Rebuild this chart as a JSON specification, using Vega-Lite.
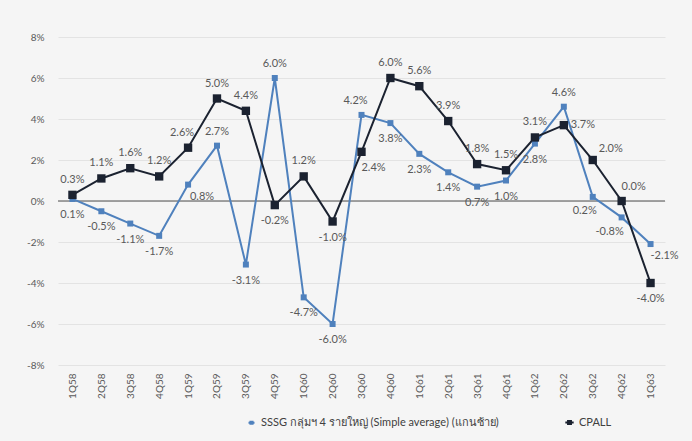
{
  "$schema": "https://vega.github.io/schema/vega-lite/v6.json",
  "width": 607,
  "height": 328,
  "autosize": {"type": "none"},
  "padding": {"left": 58, "top": 37, "right": 27, "bottom": 76},
  "background": "#f5f5f5",
  "config": {
    "view": {"stroke": null},
    "font": "Lato",
    "locale": {"number": {"decimal": ".", "thousands": ",", "grouping": [3], "currency": ["$", ""], "minus": "-"}}
  },
  "data": {
    "values": [
      {"q": "1Q58", "s": "SSSG", "v": 0.1}, {"q": "1Q58", "s": "CPALL", "v": 0.3},
      {"q": "2Q58", "s": "SSSG", "v": -0.5}, {"q": "2Q58", "s": "CPALL", "v": 1.1},
      {"q": "3Q58", "s": "SSSG", "v": -1.1}, {"q": "3Q58", "s": "CPALL", "v": 1.6},
      {"q": "4Q58", "s": "SSSG", "v": -1.7}, {"q": "4Q58", "s": "CPALL", "v": 1.2},
      {"q": "1Q59", "s": "SSSG", "v": 0.8}, {"q": "1Q59", "s": "CPALL", "v": 2.6},
      {"q": "2Q59", "s": "SSSG", "v": 2.7}, {"q": "2Q59", "s": "CPALL", "v": 5.0},
      {"q": "3Q59", "s": "SSSG", "v": -3.1}, {"q": "3Q59", "s": "CPALL", "v": 4.4},
      {"q": "4Q59", "s": "SSSG", "v": 6.0}, {"q": "4Q59", "s": "CPALL", "v": -0.2},
      {"q": "1Q60", "s": "SSSG", "v": -4.7}, {"q": "1Q60", "s": "CPALL", "v": 1.2},
      {"q": "2Q60", "s": "SSSG", "v": -6.0}, {"q": "2Q60", "s": "CPALL", "v": -1.0},
      {"q": "3Q60", "s": "SSSG", "v": 4.2}, {"q": "3Q60", "s": "CPALL", "v": 2.4},
      {"q": "4Q60", "s": "SSSG", "v": 3.8}, {"q": "4Q60", "s": "CPALL", "v": 6.0},
      {"q": "1Q61", "s": "SSSG", "v": 2.3}, {"q": "1Q61", "s": "CPALL", "v": 5.6},
      {"q": "2Q61", "s": "SSSG", "v": 1.4}, {"q": "2Q61", "s": "CPALL", "v": 3.9},
      {"q": "3Q61", "s": "SSSG", "v": 0.7}, {"q": "3Q61", "s": "CPALL", "v": 1.8},
      {"q": "4Q61", "s": "SSSG", "v": 1.0}, {"q": "4Q61", "s": "CPALL", "v": 1.5},
      {"q": "1Q62", "s": "SSSG", "v": 2.8}, {"q": "1Q62", "s": "CPALL", "v": 3.1},
      {"q": "2Q62", "s": "SSSG", "v": 4.6}, {"q": "2Q62", "s": "CPALL", "v": 3.7},
      {"q": "3Q62", "s": "SSSG", "v": 0.2}, {"q": "3Q62", "s": "CPALL", "v": 2.0},
      {"q": "4Q62", "s": "SSSG", "v": -0.8}, {"q": "4Q62", "s": "CPALL", "v": 0.0},
      {"q": "1Q63", "s": "SSSG", "v": -2.1}, {"q": "1Q63", "s": "CPALL", "v": -4.0}
    ]
  },
  "transform": [{"calculate": "format(datum.v, '.1f') + '%'", "as": "lbl"}],
  "encoding": {
    "x": {
      "field": "q", "type": "ordinal", "sort": null,
      "scale": {"type": "point", "padding": 0.5},
      "axis": {"title": null, "labelAngle": -90, "domain": false, "ticks": false, "labelPadding": 8, "labelFontSize": 10, "labelColor": "#595959", "labelBaseline": "middle"}
    },
    "y": {
      "field": "v", "type": "quantitative",
      "scale": {"domain": [-8, 8]},
      "axis": {"title": null, "values": [-8, -6, -4, -2, 0, 2, 4, 6, 8], "labelExpr": "datum.value + '%'", "domain": false, "ticks": false, "labelPadding": 14, "labelFontSize": 10, "labelColor": "#595959", "gridColor": "#e3e3e3", "gridWidth": 1}
    }
  },
  "layer": [
    {"mark": {"type": "rule", "color": "#858585", "strokeWidth": 1.5}, "data": {"values": [{"z": 0}]}, "encoding": {"y": {"field": "z", "type": "quantitative"}, "x": null}},
    {
      "mark": {"type": "line", "strokeWidth": 2},
      "encoding": {
        "color": {
          "field": "s", "type": "nominal",
          "scale": {"domain": ["SSSG", "CPALL"], "range": ["#4f81bd", "#1b2230"]},
          "legend": {
            "title": null, "orient": "none", "legendX": 188, "legendY": 380, "direction": "horizontal",
            "columnPadding": 62, "labelFontSize": 11, "labelColor": "#404040", "labelLimit": 0,
            "symbolType": "M-1,0L1,0M-0.35,-0.35L0.35,-0.35L0.35,0.35L-0.35,0.35Z",
            "symbolSize": 300, "symbolStrokeWidth": 2,
            "labelExpr": "datum.label == 'SSSG' ? 'SSSG กลุ่มฯ 4 รายใหญ่ (Simple average) (แกนซ้าย)' : 'CPALL'",
            "encode": {"symbols": {
              "enter": {"stroke": {"scale": "color", "field": "value"}, "strokeWidth": {"value": 2}},
              "update": {"fill": {"scale": "color", "field": "value"}, "stroke": {"scale": "color", "field": "value"}, "strokeWidth": {"value": 2}, "opacity": {"value": 1}, "strokeOpacity": {"value": 1}, "fillOpacity": {"value": 1}}
            }}
          }
        }
      }
    },
    {
      "mark": {"type": "point", "shape": "square", "filled": true, "opacity": 1},
      "encoding": {
        "color": {"field": "s", "type": "nominal", "scale": {"domain": ["SSSG", "CPALL"], "range": ["#4a7ebb", "#000000"]}, "legend": null},
        "size": {"field": "s", "type": "nominal", "scale": {"domain": ["SSSG", "CPALL"], "range": [36, 70]}, "legend": null}
      }
    },
    {
      "transform": [{"filter": "datum.s == 'CPALL' && indexof(['4Q59','2Q60','3Q60','1Q63','2Q62','3Q62','1Q59','4Q62'], datum.q) < 0"}],
      "mark": {"type": "text", "dy": -15, "fontSize": 11, "color": "#595959"},
      "encoding": {"text": {"field": "lbl"}}
    },
    {
      "transform": [{"filter": "datum.s == 'CPALL' && datum.q == '1Q59'"}],
      "mark": {"type": "text", "dx": -6, "dy": -15, "fontSize": 11, "color": "#595959"},
      "encoding": {"text": {"field": "lbl"}}
    },
    {
      "transform": [{"filter": "datum.s == 'CPALL' && datum.q == '4Q62'"}],
      "mark": {"type": "text", "dx": 12, "dy": -14, "fontSize": 11, "color": "#595959"},
      "encoding": {"text": {"field": "lbl"}}
    },
    {
      "transform": [{"filter": "datum.s == 'CPALL' && indexof(['4Q59','2Q60','1Q63'], datum.q) >= 0"}],
      "mark": {"type": "text", "dy": 16, "fontSize": 11, "color": "#595959"},
      "encoding": {"text": {"field": "lbl"}}
    },
    {
      "transform": [{"filter": "datum.s == 'CPALL' && datum.q == '3Q60'"}],
      "mark": {"type": "text", "dx": 12, "dy": 16, "fontSize": 11, "color": "#595959"},
      "encoding": {"text": {"field": "lbl"}}
    },
    {
      "transform": [{"filter": "datum.s == 'CPALL' && datum.q == '2Q62'"}],
      "mark": {"type": "text", "dx": 7, "align": "left", "fontSize": 11, "color": "#595959"},
      "encoding": {"text": {"field": "lbl"}}
    },
    {
      "transform": [{"filter": "datum.s == 'CPALL' && datum.q == '3Q62'"}],
      "mark": {"type": "text", "dx": 18, "dy": -11, "fontSize": 11, "color": "#595959"},
      "encoding": {"text": {"field": "lbl"}}
    },
    {
      "transform": [{"filter": "datum.s == 'SSSG' && indexof(['2Q59','4Q59','3Q60','2Q62','1Q59','1Q63','3Q62','4Q62'], datum.q) < 0"}],
      "mark": {"type": "text", "dy": 16, "fontSize": 11, "color": "#595959"},
      "encoding": {"text": {"field": "lbl"}}
    },
    {
      "transform": [{"filter": "datum.s == 'SSSG' && datum.q == '3Q62'"}],
      "mark": {"type": "text", "dx": -8, "dy": 14, "fontSize": 11, "color": "#595959"},
      "encoding": {"text": {"field": "lbl"}}
    },
    {
      "transform": [{"filter": "datum.s == 'SSSG' && datum.q == '4Q62'"}],
      "mark": {"type": "text", "dx": -12, "dy": 15, "fontSize": 11, "color": "#595959"},
      "encoding": {"text": {"field": "lbl"}}
    },
    {
      "transform": [{"filter": "datum.s == 'SSSG' && indexof(['2Q59','4Q59','2Q62'], datum.q) >= 0"}],
      "mark": {"type": "text", "dy": -14, "fontSize": 11, "color": "#595959"},
      "encoding": {"text": {"field": "lbl"}}
    },
    {
      "transform": [{"filter": "datum.s == 'SSSG' && datum.q == '3Q60'"}],
      "mark": {"type": "text", "dx": -6, "dy": -14, "fontSize": 11, "color": "#595959"},
      "encoding": {"text": {"field": "lbl"}}
    },
    {
      "transform": [{"filter": "datum.s == 'SSSG' && indexof(['1Q59','1Q63'], datum.q) >= 0"}],
      "mark": {"type": "text", "dx": 14, "dy": 12, "fontSize": 11, "color": "#595959"},
      "encoding": {"text": {"field": "lbl"}}
    }
  ]
}
